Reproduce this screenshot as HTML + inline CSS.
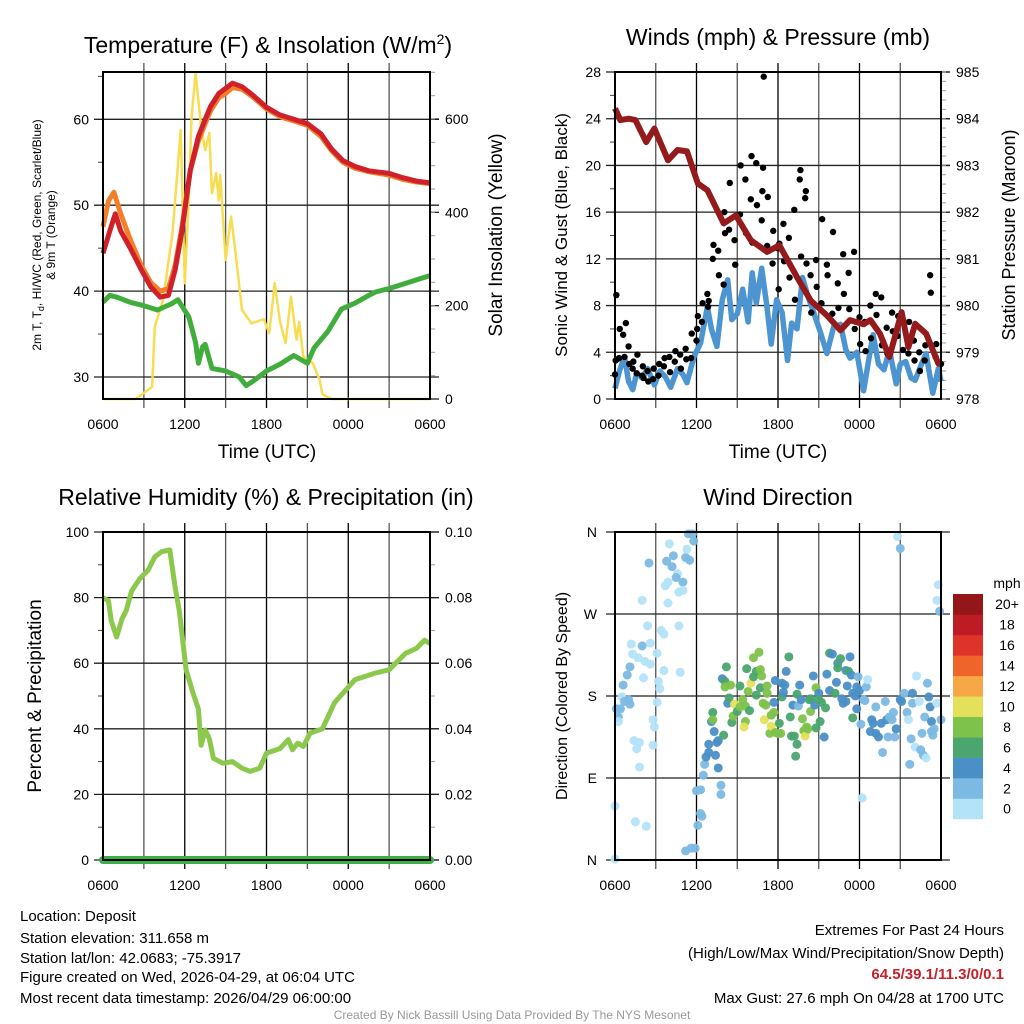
<!DOCTYPE html>
<html><head><meta charset="utf-8">
<style>
html,body{margin:0;padding:0;background:#fff;}
svg{display:block;font-family:"Liberation Sans",sans-serif;}
</style></head>
<body>
<svg id="chart" width="1024" height="1024" viewBox="0 0 1024 1024" xmlns="http://www.w3.org/2000/svg">
<rect x="0" y="0" width="1024" height="1024" fill="#fff"/>
<g id="p1"></g>
<g id="p2"></g>
<g id="p3"></g>
<g id="p4"></g>

<text x="268" y="53" font-size="23" text-anchor="middle">Temperature (F) &amp; Insolation (W/m<tspan dy="-9" font-size="14">2</tspan><tspan dy="9">)</tspan></text>
<text x="778" y="45" font-size="23" text-anchor="middle">Winds (mph) &amp; Pressure (mb)</text>
<text x="266" y="505" font-size="23" text-anchor="middle">Relative Humidity (%) &amp; Precipitation (in)</text>
<text x="778" y="505" font-size="23" text-anchor="middle">Wind Direction</text>

<text x="267" y="458" font-size="19" text-anchor="middle">Time (UTC)</text>
<text x="778" y="458" font-size="19" text-anchor="middle">Time (UTC)</text>

<text transform="translate(41,235) rotate(-90)" font-size="12" text-anchor="middle">2m T, T<tspan font-size="9" dy="3">d</tspan><tspan dy="-3">, HI/WC (Red, Green, Scarlet/Blue)</tspan></text>
<text transform="translate(55,235) rotate(-90)" font-size="12" text-anchor="middle">&amp; 9m T (Orange)</text>
<text transform="translate(502,235) rotate(-90)" font-size="19" text-anchor="middle">Solar Insolation (Yellow)</text>
<text transform="translate(567,235) rotate(-90)" font-size="17" text-anchor="middle">Sonic Wind &amp; Gust (Blue, Black)</text>
<text transform="translate(1015,235) rotate(-90)" font-size="18" text-anchor="middle">Station Pressure (Maroon)</text>
<text transform="translate(41,696) rotate(-90)" font-size="19" text-anchor="middle">Percent &amp; Precipitation</text>
<text transform="translate(567,696) rotate(-90)" font-size="16" text-anchor="middle">Direction (Colored By Speed)</text>

<g font-size="15">
<text x="20" y="921">Location: Deposit</text>
<text x="20" y="943">Station elevation: 311.658 m</text>
<text x="20" y="963">Station lat/lon: 42.0683; -75.3917</text>
<text x="20" y="982">Figure created on Wed, 2026-04-29, at 06:04 UTC</text>
<text x="20" y="1003">Most recent data timestamp: 2026/04/29 06:00:00</text>
</g>
<g font-size="15" text-anchor="end">
<text x="1004" y="935">Extremes For Past 24 Hours</text>
<text x="1004" y="958">(High/Low/Max Wind/Precipitation/Snow Depth)</text>
<text x="1004" y="979" fill="#c8202a" font-weight="bold">64.5/39.1/11.3/0/0.1</text>
<text x="1004" y="1003">Max Gust: 27.6 mph On 04/28 at 1700 UTC</text>
</g>
<text x="512" y="1019" font-size="12" fill="#999" text-anchor="middle">Created By Nick Bassill Using Data Provided By The NYS Mesonet</text>
</svg>
<script>
// ---------- data ----------
const xTickLabels = ["0600","1200","1800","0000","0600"];
// Temperature panel
const t2Hours = [0,0.5,0.9,1.3,2,2.8,3.5,4.2,4.8,5.3,5.8,6.4,7.0,7.5,7.9,8.5,9.0,9.5,10.2,11,12,13,14,15,16,16.8,17.6,18.5,19.5,21,22,23,24];
const t2Vals  = [44.4,47,49,47,45,42.5,40.5,39.3,39.5,42.5,47,54,58,60,61.5,63,63.6,64.2,63.8,62.8,61.4,60.5,60,59.5,58.3,56.5,55.2,54.5,54,53.7,53.2,52.8,52.6];
const t9Hours = [0,0.4,0.8,1.3,2,2.8,3.5,4.2,4.8,5.3,5.8,6.4,7.0,7.5,7.9,8.5,9.0,9.5,10.2,11,12,13,14,15,16,16.8,17.6,18.5,19.5,21,22,23,24];
const t9Vals  = [47.5,50.5,51.5,49,46,43,41,40,40.3,43,47.5,54,57.5,59.5,61,62.5,63,63.7,63.5,62.6,61.2,60.3,59.8,59.3,58,56.3,55,54.3,53.9,53.5,53,52.7,52.5];
const tdHours = [0,0.5,1,2,3,4,5,5.5,6.3,6.8,7,7.3,7.5,8,9,10,10.5,11,12,13,14,15,15.5,16.5,17.5,18.5,19.5,20,21,22,23,24];
const tdVals  = [38.7,39.5,39.3,38.7,38.3,37.8,38.5,39,37,34,31.6,33.5,33.8,31,30.7,30,29,29.5,30.7,31.5,32.5,31.6,33.4,35.3,37.9,38.6,39.5,39.9,40.3,40.8,41.3,41.8];
const solHours = [0,2.4,3.6,3.8,4.4,5.1,5.7,6.0,6.3,6.5,6.8,7.2,7.5,7.8,8.0,8.3,8.5,8.6,9.0,9.4,9.7,10.2,10.9,11.8,12.2,12.6,13.0,13.4,13.8,14.2,14.4,14.7,15.4,15.9,16.1,16.8,24];
const solVals  = [0,0,26,155,212,355,576,248,433,605,698,583,533,570,441,484,426,480,298,391,320,191,162,171,141,248,165,120,219,127,165,91,77,41,10,0,0];
// Winds panel
const presHours = [0,0.4,1,1.5,2.3,2.9,3.9,4.6,5.3,6.1,6.8,8,8.9,10,11.2,12.1,13.4,14.4,15.6,16.6,17.3,18.3,18.8,19.5,20.2,21.1,21.6,22.1,22.9,23.8,24];
const presVals  = [984.22,983.97,984.0,983.97,983.5,983.79,983.11,983.33,983.3,982.61,982.47,981.76,981.93,981.4,981.15,981.29,980.61,980.11,979.79,979.47,979.69,979.6,979.69,979.4,978.9,979.86,979.11,979.61,979.4,978.76,978.75];
const windHours = [0,0.35,0.7,1,1.3,1.6,2,2.4,2.9,3.3,3.7,4.1,4.6,5,5.3,5.8,6.3,6.8,7.1,7.5,7.9,8.3,8.6,9,9.4,9.8,10.1,10.4,10.8,11.2,11.5,11.9,12.3,12.7,13.0,13.4,13.8,14.2,14.6,15.1,15.6,16.1,16.6,17,17.3,17.8,18.3,18.7,19,19.4,19.8,20.2,20.7,21,21.4,21.8,22.1,22.5,22.9,23.4,23.8,24];
const windVals  = [0.9,2.5,3.6,1.5,0.8,2.2,1.8,2.6,1.2,2.4,1.9,1.0,2.6,2.1,1.4,3.6,4.8,7.9,6.0,4.5,8.5,10.2,6.8,7.3,9.4,6.6,10.8,8.2,11.2,7.8,4.7,8.5,7.4,3.3,6.5,6.0,10.4,8.8,7.5,5.8,3.9,6.2,6.4,4.2,3.5,4.0,0.7,3.5,5.5,3.0,2.5,4.2,1.3,3.0,3.2,1.8,1.6,2.8,3.9,0.5,2.6,1.5];
const gustHours = [0,0.05,0.1,0.15,0.3,0.35,0.6,0.7,0.8,1,1.05,1.3,1.35,1.6,1.65,2,2.05,2.1,2.4,2.45,2.8,2.85,3.2,3.25,3.6,3.65,4,4.05,4.4,4.45,4.8,4.85,5.2,5.25,5.6,5.65,6,6.05,6.1,6.4,6.45,6.8,6.85,6.9,7.2,7.25,7.6,7.65,8,8.05,8.1,8.4,8.45,8.8,8.85,9.2,9.25,9.6,9.65,10,10.05,10.1,10.4,10.45,10.8,10.85,10.9,10.95,11.2,11.25,11.6,11.65,12,12.05,12.1,12.4,12.45,12.8,12.85,13.2,13.25,13.6,13.65,13.7,14,14.05,14.1,14.4,14.45,14.8,14.85,15.2,15.25,15.6,15.65,16,16.05,16.4,16.45,16.8,16.85,17.2,17.25,17.6,17.65,18,18.05,18.4,18.45,18.8,18.85,19.2,19.25,19.6,19.65,20,20.05,20.4,20.45,20.8,20.85,21.2,21.25,21.6,21.65,22,22.05,22.4,22.45,22.8,22.85,23.2,23.25,23.6,23.65,24];
const gustVals  = [2.1,3.3,8.9,3.4,3.5,6.0,5.5,3.6,6.5,4.5,3.0,2.6,3.2,2.2,3.8,2.0,2.8,1.8,2.4,1.5,1.7,2.6,2.0,3.0,2.8,3.5,3.6,2.3,3.2,4.1,3.8,2.6,4.3,3.4,3.5,5.6,5.0,6.0,7.1,6.6,8.2,9.0,7.9,8.4,12.0,13.2,12.7,10.6,9.8,16.0,14.2,14.5,18.5,13.6,11.5,15.8,20.0,18.8,14.2,17.1,20.8,13.4,20.2,16.6,15.3,17.8,19.8,27.6,13.1,17.3,11.6,14.4,12.9,9.4,13.3,15.0,11.8,13.8,10.4,16.2,8.5,18.8,19.6,12.2,17.2,17.8,11.6,10.6,7.4,11.9,9.6,8.2,15.4,11.5,10.6,7.3,14.3,9.9,7.8,12.4,9.0,10.8,7.7,12.6,6.0,7.0,4.7,6.6,4.1,8.0,5.2,9.0,7.2,8.7,4.6,6.1,3.9,7.4,5.8,5.4,7.1,4.2,6.5,3.9,6.6,5.0,3.3,4.0,2.4,3.3,4.6,10.6,9.1,3.6,4.7,3.0];
// Humidity panel
const rhHours = [0,0.4,0.6,1.0,1.4,1.7,2.1,2.7,3.3,3.8,4.3,4.9,5.3,5.6,6.1,6.6,7.0,7.2,7.5,7.8,8.1,8.8,9.5,10.2,10.8,11.5,12,13,13.6,13.9,14.3,14.7,15.2,16.1,17,18.5,20,21,22.2,23,23.6,24];
const rhVals  = [80,79,73,68,73.6,76,82,85.8,88.3,92.4,94,94.5,83,76,58,51,46,35,39.6,37,31,29.5,30,28,27,28,32.6,34,36.7,33.6,35.6,34.6,38.7,40,48,55,57,58,63,64.5,67,66];
const precipHours = [0,24];
const precipVals  = [0,0];
// Wind direction panel
const dirHours = [5.4,5.7,5.8,4.0,2.5,3.8,4.3,4.2,5.2,5.5,5.3,4.6,4.5,5.0,3.9,3.7,4.7,5.0,2.0,3.9,4.7,2.4,3.4,3.6,1.2,2.0,2.6,1.3,1.7,2.2,2.6,3.1,1.1,0.9,2.1,3.6,4.8,3.2,3.3,0.6,0.5,1.0,0.7,1.1,3.1,0.1,0.4,0.25,0.25,2.8,2.9,2.8,1.4,1.8,1.6,1.8,0,1.5,2.3,0,
5.2,5.6,5.9,6.1,6.3,6.4,6.0,6.3,7.8,7.8,6.5,6.6,6.7,6.9,7.4,7.6,6.9,7.5,7.6,7.3,7.1,8.0,7.2,7.2,8.6,8.3,7.9,8.2,8.1,8.1,8.5,8.4,8.7,8.8,9.0,9.2,9.2,9.4,9.6,9.6,9.5,9.7,9.8,9.9,10.0,10.2,10.2,10.4,10.4,10.6,10.7,10.7,10.8,10.9,11.0,11.1,11.2,11.2,11.4,11.5,11.5,11.7,11.7,11.8,11.8,12.1,12.0,12.2,12.3,12.3,12.4,12.5,12.6,12.8,12.9,13.0,13.1,13.2,13.3,13.4,13.4,13.5,13.6,13.7,13.8,13.9,14.0,14.0,14.1,14.2,14.3,14.4,14.4,14.6,14.7,14.8,14.8,15.0,15.0,15.1,15.2,15.4,15.5,15.6,15.8,15.8,16.0,16.2,16.3,16.4,16.4,16.6,16.7,16.8,17.0,17.0,17.1,17.2,17.3,17.4,17.5,17.5,17.7,17.8,17.8,17.9,18.0,18.1,18.2,18.3,18.4,18.5,18.6,18.8,18.9,19.0,19.2,19.2,19.4,19.6,19.7,19.9,20.0,20.1,20.2,20.4,20.5,20.6,20.7,20.8,21.0,21.0,21.1,21.3,21.5,21.6,21.7,21.8,21.9,21.9,22.1,22.2,22.4,22.5,22.6,22.7,22.8,22.9,23.0,23.1,23.2,23.3,23.3,23.4,23.5,23.7,23.8,23.7,23.9,24.0];
const dirVals = [358,358,350,347,326,328,334,322,332,329,341,314,310,305,305,301,294,296,285,282,257,257,252,248,237,235,238,226,222,218,215,227,212,203,200,208,206,196,188,192,179,176,174,171,173,166,166,157,152,154,146,126,131,129,122,102,59,42,37,1,
10,13,13,38,51,48,76,77,82,72,93,105,113,118,115,101,127,129,131,141,152,137,162,154,151,172,199,212,196,190,192,178,158,171,163,168,191,176,152,169,146,210,185,164,194,201,222,207,181,228,189,209,202,172,154,170,183,191,139,147,159,173,162,197,140,150,139,139,179,194,184,192,207,223,157,136,170,136,114,127,182,169,192,176,155,142,140,136,146,144,176,163,177,202,170,145,189,183,176,152,173,135,167,204,186,227,226,183,195,216,211,221,177,172,174,208,191,207,223,203,156,183,180,190,166,201,186,149,68,176,175,190,198,141,154,150,168,139,135,150,118,174,154,135,157,154,162,135,144,355,342,176,174,183,162,154,105,133,172,183,124,202,174,121,139,115,157,112,194,179,168,141,152,137,144,172,302,285,273,154];
const dirSpeeds = [3,3,3,1,3,3,3,3,3,3,1,1,3,3,1,1,1,1,1,1,1,1,1,1,1,3,1,1,1,1,1,1,3,3,1,1,1,1,1,3,1,3,3,3,1,3,3,3,1,1,1,1,1,1,1,1,1,1,1,1,
3,3,3,3,3,3,3,3,3,3,3,3,5,5,5,5,5,5,5,5,5,7,7,9,7,5,5,7,7,9,9,7,9,11,7,9,7,9,9,9,11,7,9,7,11,7,9,7,7,9,7,9,9,9,11,9,9,9,9,11,9,5,9,5,9,7,9,9,7,5,5,5,5,7,7,7,5,7,7,7,7,3,5,5,9,9,9,11,9,9,7,9,7,5,5,7,9,5,7,7,7,5,7,5,5,7,5,7,5,5,7,7,5,5,5,5,5,7,5,5,7,5,5,5,5,3,5,3,1,3,3,3,1,5,5,5,3,5,5,5,3,3,5,3,3,3,3,3,5,1,3,5,5,3,3,1,3,3,3,5,1,1,1,3,3,3,3,1,3,5,5,3,5,3,3,1,1,1,3];
const speedBins = ["0","2","4","6","8","10","12","14","16","18","20+"];
const speedColors = ["#b3e3f8","#7cb9e3","#4a8fc6","#4aa56e","#7dc24b","#e5e05a","#f6a846","#ef6429","#de3328","#bd1c25","#931619"];

// ---------- helpers ----------
const NS = "http://www.w3.org/2000/svg";
function mk(parent, tag, attrs, text){
  const e = document.createElementNS(NS, tag);
  for (const k in attrs) e.setAttribute(k, attrs[k]);
  if (text !== undefined) e.textContent = text;
  parent.appendChild(e);
  return e;
}
function linScale(d0,d1,r0,r1){ return v => r0 + (v-d0)*(r1-r0)/(d1-d0); }

function drawFrame(g, box, xs, ylTicks, ylFmt, ylMinor, yl, yrTicks, yrFmt, yrMinor, yr){
  for (let h=3; h<24; h+=3){
    const gl = mk(g,"line",{x1:xs(h),x2:xs(h),y1:box.y0-9,y2:box.y1+9,stroke:(h%6===0?"#000":"#555"),"stroke-width":1.3});
    
    
  }
  ylTicks.forEach(v=>{
    const y = yl(v);
    const gl = mk(g,"line",{x1:box.x0-9,x2:box.x1+9,y1:y,y2:y,stroke:"#222","stroke-width":1.3});
    
    
    const t = mk(g,"text",{x:box.x0-14,y:y+5,"font-size":14,"text-anchor":"end"},ylFmt(v));
    
    
  });
  ylMinor.forEach(v=>{ mk(g,"line",{x1:box.x0-5,x2:box.x0,y1:yl(v),y2:yl(v),stroke:"#444","stroke-width":1}); });
  if (yrTicks){
    yrTicks.forEach(v=>{
      const y = yr(v);
      mk(g,"line",{x1:box.x1,x2:box.x1+9,y1:y,y2:y,stroke:"#222","stroke-width":1.3});
      const t = mk(g,"text",{x:box.x1+15,y:y+5,"font-size":14},yrFmt(v));
      
      
    });
    yrMinor.forEach(v=>{ mk(g,"line",{x1:box.x1,x2:box.x1+5,y1:yr(v),y2:yr(v),stroke:"#999","stroke-width":1}); });
  }
  xTickLabels.forEach((s,i)=>{
    const t = mk(g,"text",{x:xs(i*6),y:box.y1+30,"font-size":14,"text-anchor":"middle"},s);
    
    
  });
}
function drawBorder(g, box){
  const r = mk(g,"rect",{x:box.x0,y:box.y0,width:box.x1-box.x0,height:box.y1-box.y0,fill:"none",stroke:"#000","stroke-width":2});
  
  
}
function pathFrom(hours, vals, xs, ys){
  return hours.map((h,i)=>(i?"L":"M")+xs(h).toFixed(1)+","+ys(vals[i]).toFixed(1)).join("");
}
function range(a,b,s){ const r=[]; for(let v=a; v<=b+1e-9; v+=s) r.push(+v.toFixed(4)); return r; }

// ---------- panel 1 ----------
(function(){
  const g = document.getElementById("p1");
  const box = {x0:103,x1:430,y0:72,y1:399};
  const xs = linScale(0,24,box.x0,box.x1);
  const yl = linScale(30,60,377,119.3);
  const yr = linScale(0,600,399,119);
  drawFrame(g, box, xs, [30,40,50,60], v=>String(v), [35,45,55,65], yl, [0,200,400,600], v=>String(v), range(50,700,50), yr);
  const sol = mk(g,"path",{d:pathFrom(solHours,solVals,xs,yr),fill:"none",stroke:"#f8dc52","stroke-width":2.5,"stroke-linejoin":"round"});
  
  
  const td = mk(g,"path",{d:pathFrom(tdHours,tdVals,xs,yl),fill:"none",stroke:"#41ad3c","stroke-width":5,"stroke-linejoin":"round"});
  
  
  const t9 = mk(g,"path",{d:pathFrom(t9Hours,t9Vals,xs,yl),fill:"none",stroke:"#f47f2a","stroke-width":5,"stroke-linejoin":"round"});
  
  
  const t2 = mk(g,"path",{d:pathFrom(t2Hours,t2Vals,xs,yl),fill:"none",stroke:"#d0202a","stroke-width":5,"stroke-linejoin":"round"});
  
  
  drawBorder(g, box);
})();

// ---------- panel 2 ----------
(function(){
  const g = document.getElementById("p2");
  const box = {x0:615,x1:941,y0:72,y1:399};
  const xs = linScale(0,24,box.x0,box.x1);
  const yl = linScale(0,28,399,72);
  const yr = linScale(978,985,399,72);
  drawFrame(g, box, xs, [0,4,8,12,16,20,24,28], v=>String(v), [2,6,10,14,18,22,26], yl, [978,979,980,981,982,983,984,985], v=>String(v), range(978,985,0.2), yr);
  const w = mk(g,"path",{d:pathFrom(windHours,windVals,xs,yl),fill:"none",stroke:"#4d95d0","stroke-width":5.5,"stroke-linejoin":"round"});
  
  
  gustHours.forEach((h,i)=>{
    const c = mk(g,"circle",{cx:xs(h),cy:yl(gustVals[i]),r:3.2,fill:"#000"});
    
    
  });
  const p = mk(g,"path",{d:pathFrom(presHours,presVals,xs,yr),fill:"none",stroke:"#951a1c","stroke-width":6,"stroke-linejoin":"round"});
  
  
  drawBorder(g, box);
})();

// ---------- panel 3 ----------
(function(){
  const g = document.getElementById("p3");
  const box = {x0:103,x1:430,y0:532,y1:860};
  const xs = linScale(0,24,box.x0,box.x1);
  const yl = linScale(0,100,860,532);
  const yr = linScale(0,0.1,860,532);
  drawFrame(g, box, xs, [0,20,40,60,80,100], v=>String(v), [10,30,50,70,90], yl, [0,0.02,0.04,0.06,0.08,0.1], v=>v.toFixed(2), range(0.01,0.09,0.02), yr);
  const rh = mk(g,"path",{d:pathFrom(rhHours,rhVals,xs,yl),fill:"none",stroke:"#8cc84b","stroke-width":5,"stroke-linejoin":"round"});
  
  
  const pr = mk(g,"path",{d:pathFrom(precipHours,precipVals,xs,yr),fill:"none",stroke:"#3fae49","stroke-width":8,"stroke-linecap":"round"});
  
  
  drawBorder(g, box);
})();

// ---------- panel 4 ----------
(function(){
  const g = document.getElementById("p4");
  const box = {x0:615,x1:941,y0:532,y1:860};
  const xs = linScale(0,24,box.x0,box.x1);
  const yl = linScale(0,360,860,532);
  const dirLabels = ["N","E","S","W","N"];
  drawFrame(g, box, xs, [], v=>"", [], yl, null);
  [0,90,180,270,360].forEach((v,i)=>{
    const y = yl(v);
    mk(g,"line",{x1:box.x0-9,x2:box.x1+9,y1:y,y2:y,stroke:"#222","stroke-width":1.3});
    const t = mk(g,"text",{x:box.x0-18,y:y+5,"font-size":14,"text-anchor":"end"},dirLabels[i]);
    
    
  });
  dirHours.forEach((h,i)=>{
    const sp = (dirSpeeds[i] === undefined) ? 3 : dirSpeeds[i];
    const bin = Math.max(0, Math.min(10, Math.floor(sp/2)));
    const c = mk(g,"circle",{cx:xs(h),cy:yl(dirVals[i]),r:4.5,fill:speedColors[bin],"fill-opacity":0.95});
    
    
  });
  drawBorder(g, box);
  const cb = mk(g,"g",{});
  
  
  const top = 594, bh = 20.45;
  speedBins.forEach((s,i)=>{
    const y = top + (10-i)*bh;
    const r = mk(cb,"rect",{x:953,y:y,width:30,height:bh+0.3,fill:speedColors[i]});
    
    
    const t = mk(cb,"text",{x:1007,y:y+bh/2+5,"font-size":14,"text-anchor":"middle"},s);
    
    
  });
  const u = mk(cb,"text",{x:1007,y:588,"font-size":14,"text-anchor":"middle"},"mph");
  
  
})();
</script>
</body></html>
